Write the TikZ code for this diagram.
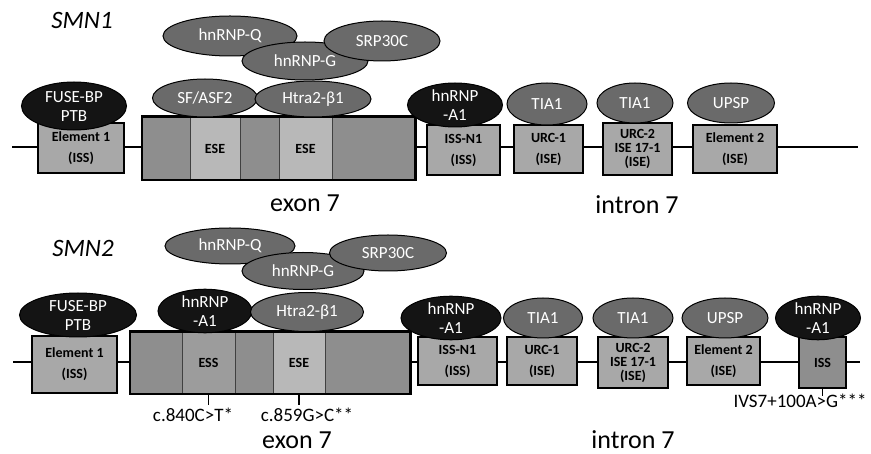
\documentclass[tikz,border=0pt]{standalone}
\usepackage{fontspec}
\setmainfont{Carlito}
\usetikzlibrary{shapes.geometric}
\definecolor{ellgray}{HTML}{6A6A6A}
\definecolor{ellblack}{HTML}{141414}
\definecolor{segdark}{HTML}{8E8E8E}
\definecolor{seglight}{HTML}{B8B8B8}
\definecolor{boxgray}{HTML}{A8A8A8}
\definecolor{essgray}{HTML}{9C9C9C}
\tikzset{
  prot/.style={ellipse, draw=black, line width=1pt, fill=ellgray, text=white, inner sep=0pt,
    font=\fontsize{17}{19}\selectfont, align=center},
  protk/.style={prot, fill=ellblack},
  ibox/.style={rectangle, draw=black, line width=1.2pt, fill=boxgray, inner sep=0pt,
    font=\bfseries\fontsize{14}{21}\selectfont, align=center},
  tbox/.style={ibox, font=\bfseries\fontsize{14}{14}\selectfont},
  seg/.style={rectangle, draw=black!75, line width=0.8pt, fill=segdark, inner sep=0pt,
    font=\bfseries\fontsize{14}{16}\selectfont},
  seglt/.style={seg, fill=seglight},
  segss/.style={seg, fill=essgray},
  backbone/.style={line width=2.4pt, black},
  exonframe/.style={line width=2.2pt, black},
  tick/.style={line width=1.2pt, black},
  gene/.style={font=\itshape\fontsize{25}{28}\selectfont, inner sep=0pt},
  region/.style={font=\fontsize{26}{30}\selectfont, inner sep=0pt},
  mut/.style={font=\fontsize{19}{22}\selectfont, inner sep=0pt},
}
\begin{document}
\begin{tikzpicture}[x=1pt,y=-1pt]
\useasboundingbox (0,0) rectangle (871,454);
\fill[white] (0,0) rectangle (871,454);

% ================= SMN1 =================
\node[gene] (smn1) at (82,20) {SMN1};
\coordinate (ls1) at (12,147);
\coordinate (le1) at (858,147);
\draw[backbone] (ls1) -- (le1);

\node[ibox, minimum width=86pt, minimum height=50pt] (el1t) at (81,148) {Element 1\\(ISS)};
\node[seg,   minimum width=48pt, minimum height=63pt] (s1t) at (166,148.5) {};
\node[seglt, minimum width=50pt, minimum height=63pt] (s2t) at (215,148.5) {ESE};
\node[seg,   minimum width=39pt, minimum height=63pt] (s3t) at (259.5,148.5) {};
\node[seglt, minimum width=53pt, minimum height=63pt] (s4t) at (305.5,148.5) {ESE};
\node[seg,   minimum width=83pt, minimum height=63pt] (s5t) at (373.5,148.5) {};
\draw[exonframe] (s1t.north west) rectangle (s5t.south east);
\node[ibox, minimum width=73pt, minimum height=50pt] (isst) at (463.5,150) {ISS-N1\\(ISS)};
\node[ibox, minimum width=69pt, minimum height=48pt] (urc1t) at (548.5,149) {URC-1\\(ISE)};
\node[tbox, minimum width=69pt, minimum height=52pt] (urc2t) at (637.5,149) {URC-2\\ISE 17-1\\(ISE)};
\node[ibox, minimum width=84pt, minimum height=48pt] (el2t) at (735,149) {Element 2\\(ISE)};

\node[protk, minimum width=105pt, minimum height=48pt] (fuset) at (74,106) {FUSE-BP\\PTB};
\node[prot, minimum width=134pt, minimum height=40pt] (qt) at (230,36) {hnRNP-Q};
\node[prot, minimum width=126pt, minimum height=38pt] (gt) at (305,61) {hnRNP-G};
\node[prot, minimum width=116pt, minimum height=40pt] (srpt) at (382,41) {SRP30C};
\node[prot, minimum width=105pt, minimum height=38pt] (sft) at (205,98) {SF/ASF2};
\node[prot, minimum width=116pt, minimum height=36pt] (htt) at (313,99) {Htra2-β1};
\node[protk, minimum width=95pt, minimum height=44pt] (a1t) at (455,105) {hnRNP\\-A1};
\node[prot, minimum width=80pt, minimum height=42pt] (tia1t) at (547,104) {TIA1};
\node[prot, minimum width=76pt, minimum height=40pt] (tia2t) at (635,103) {TIA1};
\node[prot, minimum width=87pt, minimum height=40pt] (upspt) at (731,103) {UPSP};

\node[region] (ex7t) at (305,203) {exon 7};
\node[region] (in7t) at (637,205) {intron 7};

% ================= SMN2 =================
\node[gene] (smn2) at (83,248) {SMN2};
\coordinate (ls2) at (13,362);
\coordinate (le2) at (860,362);
\draw[backbone] (ls2) -- (le2);

\node[ibox, minimum width=85pt, minimum height=57pt] (el1b) at (74.5,364.5) {Element 1\\(ISS)};
\node[seg,   minimum width=52pt, minimum height=62pt] (s1b) at (156,363) {};
\node[segss, minimum width=53pt, minimum height=62pt] (s2b) at (208.5,363) {ESS};
\node[seg,   minimum width=38pt, minimum height=62pt] (s3b) at (254,363) {};
\node[seglt, minimum width=52pt, minimum height=62pt] (s4b) at (299,363) {ESE};
\node[seg,   minimum width=85pt, minimum height=62pt] (s5b) at (367.5,363) {};
\draw[exonframe] (s1b.north west) rectangle (s5b.south east);
\node[ibox, minimum width=79pt, minimum height=48pt] (issb) at (457.5,361) {ISS-N1\\(ISS)};
\node[ibox, minimum width=70pt, minimum height=48pt] (urc1b) at (542,361) {URC-1\\(ISE)};
\node[tbox, minimum width=70pt, minimum height=51pt] (urc2b) at (633,362.5) {URC-2\\ISE 17-1\\(ISE)};
\node[ibox, minimum width=73pt, minimum height=48pt] (el2b) at (723.5,361) {Element 2\\(ISE)};
\node[ibox, fill=segdark, minimum width=47pt, minimum height=51pt] (issl) at (822.5,362.5) {ISS};

\node[protk, minimum width=117pt, minimum height=44pt] (fuseb) at (78,315) {FUSE-BP\\PTB};
\node[prot, minimum width=130pt, minimum height=36pt] (qb) at (230,246) {hnRNP-Q};
\node[prot, minimum width=122pt, minimum height=37pt] (gb) at (303,271) {hnRNP-G};
\node[prot, minimum width=117pt, minimum height=36pt] (srpb) at (388,253) {SRP30C};
\node[protk, minimum width=94pt, minimum height=42pt] (a1e) at (205,311) {hnRNP\\-A1};
\node[prot, minimum width=113pt, minimum height=39pt] (htb) at (307,312) {Htra2-β1};
\node[protk, minimum width=100pt, minimum height=42pt] (a1b) at (451,318) {hnRNP\\-A1};
\node[prot, minimum width=79pt, minimum height=40pt] (tia1b) at (543,318) {TIA1};
\node[prot, minimum width=80pt, minimum height=40pt] (tia2b) at (633,318) {TIA1};
\node[prot, minimum width=86pt, minimum height=40pt] (upspb) at (725,318) {UPSP};
\node[protk, minimum width=85pt, minimum height=40pt] (a1l) at (818,318) {hnRNP\\-A1};

\node[mut] (m1) at (193,415) {c.840C>T*};
\node[mut] (m2) at (307,415) {c.859G>C**};
\node[mut] (m3) at (800,401) {IVS7+100A>G***};
\draw[tick] (s2b.south) -- ++(0,11);
\draw[tick] (s4b.south) -- ++(0,11);
\draw[tick] (issl.south) -- ++(0,7);

\node[region] (ex7b) at (297,440) {exon 7};
\node[region] (in7b) at (633,440) {intron 7};
\end{tikzpicture}
\end{document}
